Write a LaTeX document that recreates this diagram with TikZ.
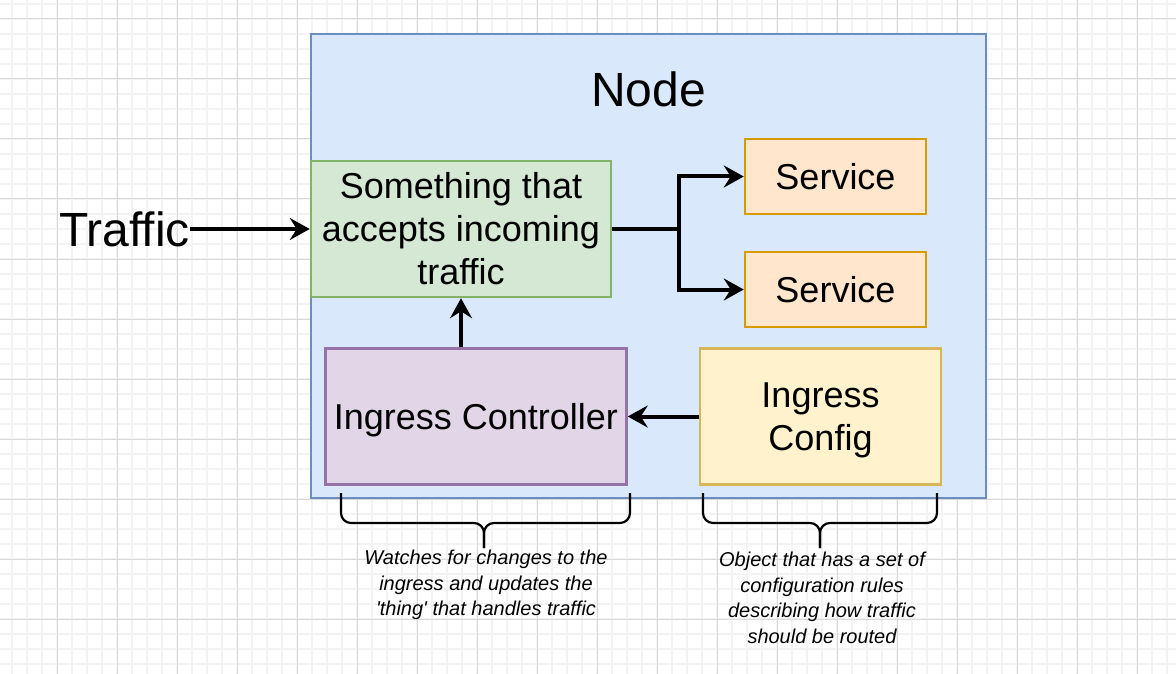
\documentclass[tikz,border=0pt]{standalone}
\usepackage{fontspec}
\setmainfont{Liberation Sans}
\usetikzlibrary{arrows.meta,positioning}

\definecolor{nodefill}{HTML}{DAE8FC}
\definecolor{nodeline}{HTML}{6C8EBF}
\definecolor{entryfill}{HTML}{D5E8D4}
\definecolor{entryline}{HTML}{82B366}
\definecolor{svcfill}{HTML}{FFE6CC}
\definecolor{svcline}{HTML}{D79B00}
\definecolor{ctrlfill}{HTML}{E1D5E7}
\definecolor{ctrlline}{HTML}{9673A6}
\definecolor{conffill}{HTML}{FFF2CC}
\definecolor{confline}{HTML}{D6B656}
\definecolor{gridmajor}{HTML}{D9D9D9}
\definecolor{gridminor}{HTML}{F3F3F3}

\newcommand{\titlefont}{\fontsize{48}{58}\selectfont}
\newcommand{\boxfont}{\fontsize{36}{43}\selectfont}
\newcommand{\notefont}{\fontsize{20}{25.5}\selectfont\itshape}

\tikzset{
    box/.style={draw, line width=2.5pt, align=center, inner sep=0pt, font=\boxfont},
    flow/.style={-{Stealth[length=20pt,width=22pt,inset=7pt]}, line width=4pt},
    brace/.style={line width=2.2pt, rounded corners=10pt},
    note/.style={anchor=north, align=center, inner sep=0pt, font=\notefont}
}

\begin{document}
\begin{tikzpicture}[x=1pt,y=-1pt]
        \useasboundingbox (0,0) rectangle (1176,674);
        \fill[white] (0,0) rectangle (1176,674);

        % background grid
        \foreach \gx in {-3,12,...,1197}
            \draw[gridminor, line width=1.5pt] (\gx,0) -- (\gx,674);
        \foreach \gy in {4,19,...,679}
            \draw[gridminor, line width=1.5pt] (0,\gy) -- (1176,\gy);
        \foreach \gx in {-3,57,...,1197}
            \draw[gridmajor, line width=1pt] (\gx,0) -- (\gx,674);
        \foreach \gy in {19,79,...,679}
            \draw[gridmajor, line width=1pt] (0,\gy) -- (1176,\gy);

        \node[box, fill=nodefill, draw=nodeline, minimum width=675pt, minimum height=464pt] (nodebox) at (648.5,266) {};
        \node[font=\titlefont, inner sep=0pt] (title) at (648.5,89) {Node};

        \begin{scope}[every node/.style={box}]
            \node[fill=entryfill, draw=entryline, minimum width=300pt, minimum height=136pt] (entry) at (461,229)
                {Something that\\accepts incoming\\traffic};

            \node[fill=svcfill, draw=svcline, minimum width=181pt, minimum height=75pt] (svc1) at (835.5,176.5) {Service};
            \node[fill=svcfill, draw=svcline, minimum width=181pt, minimum height=75pt] (svc2) at (835.5,289.5) {Service};

            \node[fill=ctrlfill, draw=ctrlline, minimum width=301pt, minimum height=136pt, text depth=0pt] (ctrl) at (476,416.5) {Ingress Controller};
            \node[fill=conffill, draw=confline, minimum width=241pt, minimum height=136pt, text depth=0pt] (config) at (820.5,416.5) {Ingress\\Config};
        \end{scope}

        \node[font=\titlefont, inner sep=0pt, anchor=east] (traffic) at (190,229) {Traffic};
        \coordinate (split) at (679,229);

        \draw[flow] (traffic.east |- entry.west) -- (entry.west);
        \draw[line width=4pt] (entry.east) -- (split);
        \draw[flow] (split) |- (svc1.west);
        \draw[flow] (split) |- (svc2.west);
        \draw[flow] (ctrl.north -| entry.south) -- (entry.south);
        \draw[flow] (config.west) -- (ctrl.east);

        % braces under the boxes
        \draw[brace] (341,493) |- (484,523) -- (484,548);
        \draw[brace] (630,493) |- (484,523) -- (484,548);
        \draw[brace] (703,493) |- (820,523) -- (820,548);
        \draw[brace] (937,493) |- (820,523) -- (820,548);

        \node[note] (notectrl) at (486,550) {Watches for changes to the\\ingress and updates the\\\textquotesingle thing\textquotesingle{} that handles traffic};
        \node[note] (noteconf) at (822,552) {Object that has a set of\\configuration rules\\describing how traffic\\should be routed};
\end{tikzpicture}
\end{document}
